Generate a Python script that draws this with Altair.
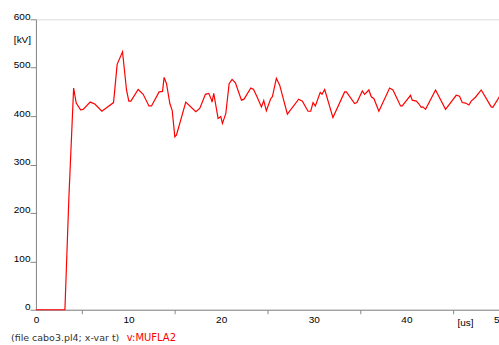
import altair as alt
import pandas as pd

# Time axis [us] and voltage [kV] of the MUFLA2 node trace
t_us = [0, 3.13, 3.55, 4.07, 4.35, 4.82, 5.1, 5.86, 6.36, 7.12, 8.38, 8.77, 9.35, 9.78,
        10.03, 10.25, 11.04, 11.58, 12.2, 12.48, 13.3, 13.67, 13.84, 14.1, 14.46, 14.71,
        15.0, 15.18, 16.18, 17.26, 17.69, 18.3, 18.66, 18.91, 19.02, 19.2, 19.67, 19.96,
        20.14, 20.5, 20.86, 21.18, 21.54, 22.19, 22.47, 23.2, 23.5, 23.87, 24.35, 24.6,
        24.88, 25.35, 25.53, 25.96, 26.32, 27.15, 28.37, 28.77, 29.38, 29.67, 29.92, 30.17,
        30.7, 30.89, 31.18, 32.07, 33.33, 33.52, 34.41, 34.66, 35.24, 35.49, 35.95, 36.21,
        36.5, 37.03, 38.19, 38.55, 39.37, 39.55, 40.45, 40.63, 41.07, 41.32, 41.6, 41.78,
        42.07, 43.15, 44.23, 45.38, 45.74, 46.03, 46.39, 46.75, 47.0, 47.46, 48.08, 49.16,
        49.33, 49.97, 50]
v_kv = [0, 0, 227, 458, 427, 413, 414, 429, 425, 410, 428, 507, 533, 454,
        431, 431, 455, 445, 421, 421, 450, 451, 480, 467, 426, 412,
        357, 361, 429, 409, 416, 445, 447, 436, 429, 447, 395, 399,
        385, 405, 467, 476, 469, 433, 435, 458, 455, 440, 419, 432,
        411, 436, 440, 478, 464, 404, 435, 431, 410, 410, 428, 421,
        449, 445, 455, 397, 450, 450, 426, 428, 452, 445, 454, 440,
        436, 410, 458, 454, 421, 421, 443, 433, 431, 426, 418, 419,
        414, 454, 414, 443, 441, 428, 427, 423, 431, 439, 454, 419,
        418, 438, 440]

x_tick_values = [0, 5, 10, 15, 20, 25, 30, 35, 40, 45, 50]
y_tick_values = [0, 100, 200, 300, 400, 500, 600]

footer_file = ["(file cabo3.pl4; x-var t)"]
footer_var = ["v:MUFLA2"]

FONT = "Liberation Sans"
FOOT_FONT = "DejaVu Sans"
W, H = 464, 291

df = pd.DataFrame({"t": t_us, "v": v_kv})

line = alt.Chart(df).mark_line(color="#ff0000", strokeWidth=1.2).encode(
    x=alt.X(
        "t:Q",
        scale=alt.Scale(domain=[0, 50], nice=False),
        axis=alt.Axis(
            values=x_tick_values,
            labelExpr="datum.value % 10 === 0 ? datum.label : ''",
            tickOpacity={"condition": {"test": "datum.value % 10 === 0", "value": 0}, "value": 1},
            tickSize=4,
            labelPadding=1,
            labelFlush=False,
            labelOverlap=False,
            grid=False,
            title="[us]",
            titleX=430,
            titleY=13,
            titleAlign="center",
            titleBaseline="middle",
            titleFontWeight="normal",
            titleFontSize=10,
        ),
    ),
    y=alt.Y(
        "v:Q",
        scale=alt.Scale(domain=[0, 600], nice=False),
        axis=alt.Axis(
            values=y_tick_values,
            tickSize=6,
            labelPadding=0,
            labelBaseline="alphabetic",
            labelAlign="right",
            grid=False,
            title="[kV]",
            titleAngle=0,
            titleX=-14,
            titleY=20,
            titleAlign="center",
            titleBaseline="middle",
            titleFontWeight="normal",
            titleFontSize=10,
        ),
    ),
)

# Footer: source file and plotted variable, placed below the x axis
file_text = alt.Chart(pd.DataFrame({"s": footer_file})).mark_text(
    align="left", baseline="middle", fontSize=9.5, font=FOOT_FONT, color="#333333"
).encode(x=alt.value(-25), y=alt.value(319), text="s:N")

var_text = alt.Chart(pd.DataFrame({"s": footer_var})).mark_text(
    align="left", baseline="middle", fontSize=10, font=FOOT_FONT, color="#ff0000"
).encode(x=alt.value(91), y=alt.value(319), text="s:N")

chart = alt.layer(line, file_text, var_text).properties(
    width=W,
    height=H,
    autosize=alt.AutoSizeParams(type="none"),
    padding={"left": 36, "top": 19, "right": 0, "bottom": 35},
).configure_view(
    stroke="black", strokeWidth=1
).configure_axis(
    domainColor="black",
    domainWidth=1,
    tickColor="black",
    labelColor="#222222",
    labelFont=FONT,
    labelFontSize=10,
    titleFont=FONT,
    titleColor="#222222",
).configure(background="white")

chart.save("out.html", embed_options={"renderer": "svg", "actions": False})
